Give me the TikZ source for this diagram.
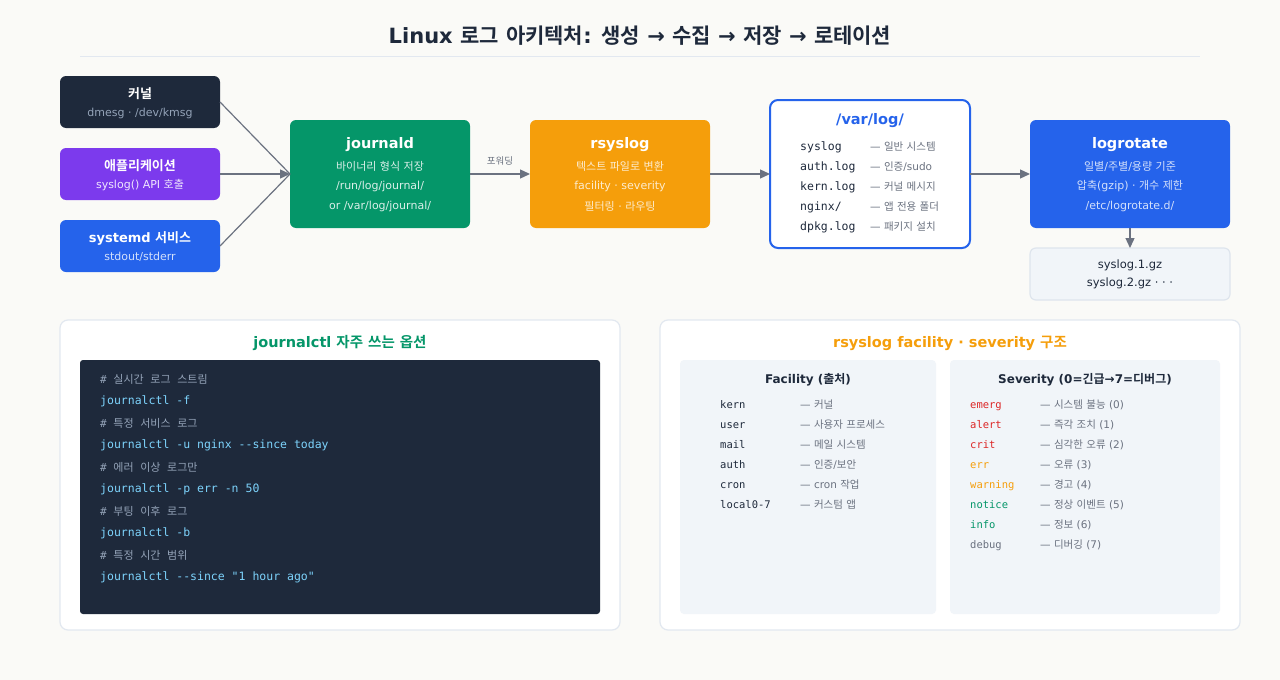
\documentclass[tikz,border=0pt]{standalone}
\usepackage{fontspec}
\setmainfont{DejaVu Sans}
\setmonofont{DejaVu Sans Mono}
\newfontfamily\krfont{Noto Sans CJK KR}[BoldFont={* Bold}]
\XeTeXinterchartokenstate=1
\newXeTeXintercharclass\KRclass
\count255="AC00
\loop \XeTeXcharclass\count255=\KRclass \advance\count255 1 \ifnum\count255<"D7A4 \repeat
\XeTeXinterchartoks 0 \KRclass = {\begingroup\krfont}
\XeTeXinterchartoks 4095 \KRclass = {\begingroup\krfont}
\XeTeXinterchartoks \KRclass 0 = {\endgroup}
\XeTeXinterchartoks \KRclass 4095 = {\endgroup}
\usetikzlibrary{arrows.meta}
\definecolor{bg}{HTML}{FAFAF7}
\definecolor{ink}{HTML}{1E293B}
\definecolor{rule}{HTML}{E2E8F0}
\definecolor{purp}{HTML}{7C3AED}
\definecolor{blu}{HTML}{2563EB}
\definecolor{grn}{HTML}{059669}
\definecolor{org}{HTML}{F59E0B}
\definecolor{gry}{HTML}{6B7280}
\definecolor{lgry}{HTML}{94A3B8}
\definecolor{pale}{HTML}{F1F5F9}
\definecolor{pbord}{HTML}{CBD5E1}
\definecolor{cy}{HTML}{7DD3FC}
\definecolor{red}{HTML}{DC2626}
\tikzset{
 box/.style={rounded corners=6pt, draw=none},
 t/.style={font=\fontsize{13}{15}\selectfont\bfseries, text=white},
 s/.style={font=\fontsize{11}{12}\selectfont},
 arr/.style={draw=gry, line width=1.3pt, -{Triangle[length=10pt,width=9pt]}},
 lft/.style={anchor=base west, inner xsep=0pt},
 mono/.style={lft, font=\ttfamily\fontsize{11.5}{13}\selectfont},
 mono2/.style={lft, font=\ttfamily\fontsize{10.5}{12}\selectfont},
 desc/.style={lft, font=\fontsize{10.5}{12}\selectfont, text=gry},
}
\begin{document}
\begin{tikzpicture}[x=1pt,y=-1pt]
\fill[bg] (0,0) rectangle (1280,680);
\useasboundingbox (0,0) rectangle (1280,680);
\node[font=\fontsize{21}{24}\selectfont\bfseries, text=ink] (title) at (640,36) {Linux 로그 아키텍처: 생성 → 수집 → 저장 → 로테이션};
\draw[rule, line width=1pt] (80,56) -- (1200,56);
% sources
\fill[box, ink] (60,76) rectangle (220,128); \coordinate (k) at (220,102);
\node[t] at (140,94) {커널}; \node[s, text=lgry] at (140,113) {dmesg · /dev/kmsg};
\fill[box, purp] (60,148) rectangle (220,200); \coordinate (a) at (220,174);
\node[t] at (140,166) {애플리케이션}; \node[s, text=white!88!purp] at (140,185) {syslog() API 호출};
\fill[box, blu] (60,220) rectangle (220,272); \coordinate (sd) at (220,246);
\node[t] at (140,238) {systemd 서비스}; \node[s, text=white!80!blu] at (140,257) {stdout/stderr};
% journald
\fill[box, grn] (290,120) rectangle (470,228);
\coordinate (jl) at (290,174); \coordinate (jr) at (470,174);
\node[t, font=\fontsize{14.5}{16}\selectfont\bfseries] at (380,145) {journald};
\node[s, text=white!85!grn] at (380,166) {바이너리 형식 저장};
\node[s, text=white!85!grn] at (380,186) {/run/log/journal/};
\node[s, text=white!85!grn] at (380,206) {or /var/log/journal/};
% rsyslog
\fill[box, org] (530,120) rectangle (710,228);
\coordinate (rl) at (530,174); \coordinate (rr) at (710,174);
\node[t, font=\fontsize{14.5}{16}\selectfont\bfseries] at (620,145) {rsyslog};
\node[s, text=white!80!org] at (620,166) {텍스트 파일로 변환};
\node[s, text=white!80!org] at (620,186) {facility · severity};
\node[s, text=white!80!org] at (620,206) {필터링 · 라우팅};
% varlog
\draw[blu, fill=white, line width=2pt, rounded corners=8pt] (770,100) rectangle (970,248);
\coordinate (vl) at (770,174); \coordinate (vr) at (970,174);
\node[font=\fontsize{14.5}{16}\selectfont\bfseries, text=blu] at (870,121) {/var/log/};
\foreach \n/\d [count=\i from 0] in {{syslog}/{일반 시스템}, {auth.log}/{인증/sudo}, {kern.log}/{커널 메시지}, {nginx/}/{앱 전용 폴더}, {dpkg.log}/{패키지 설치}}{
  \node[mono, text=ink] at (800,150+20*\i) {\n};
  \node[desc] at (870,150+20*\i) {— \d};
}
% logrotate
\fill[box, blu] (1030,120) rectangle (1230,228);
\coordinate (ll) at (1030,174); \coordinate (lb) at (1130,228);
\node[t, font=\fontsize{14.5}{16}\selectfont\bfseries] at (1130,145) {logrotate};
\node[s, text=white!80!blu] at (1130,166) {일별/주별/용량 기준};
\node[s, text=white!80!blu] at (1130,186) {압축(gzip) · 개수 제한};
\node[s, text=white!80!blu] at (1130,206) {/etc/logrotate.d/};
\draw[pale!50!pbord, fill=pale, line width=1.2pt, rounded corners=6pt] (1030,248) rectangle (1230,300);
\coordinate (at) at (1130,248);
\node[font=\fontsize{11.5}{13}\selectfont, text=ink] at (1130,265) {syslog.1.gz};
\node[font=\fontsize{11.5}{13}\selectfont, text=ink] at (1130,283) {syslog.2.gz · · ·};
% arrows
\draw[draw=gry, line width=1.2pt] (k) -- (jl); \draw[draw=gry, line width=1.2pt] (sd) -- (jl);
\draw[arr] (a) -- (jl);
\draw[arr] (jr) -- (rl);
\node[font=\fontsize{9.5}{10}\selectfont, text=gry] at (500,161) {포워딩};
\draw[arr] (rr) -- (vl);
\draw[arr] (vr) -- (ll);
\draw[arr] (lb) -- (at);
% bottom left
\draw[rule, fill=white, line width=1.2pt, rounded corners=8pt] (60,320) rectangle (620,630);
\node[font=\fontsize{14.5}{16}\selectfont\bfseries, text=grn] at (340,343) {journalctl 자주 쓰는 옵션};
\fill[ink, rounded corners=3pt] (80,360) rectangle (600,614);
\foreach \c/\m [count=\i from 0] in {{실시간 로그 스트림}/{journalctl -f}, {특정 서비스 로그}/{journalctl -u nginx --since today}, {에러 이상 로그만}/{journalctl -p err -n 50}, {부팅 이후 로그}/{journalctl -b}, {특정 시간 범위}/{journalctl --since "1 hour ago"}}{
  \node[lft, font=\ttfamily\fontsize{11}{13}\selectfont, text=lgry] at (100,383+44*\i) {\# \c};
  \node[lft, font=\ttfamily\fontsize{11.5}{13}\selectfont, text=cy] at (100,404+44*\i) {\m};
}
% bottom right
\draw[rule, fill=white, line width=1.2pt, rounded corners=8pt] (660,320) rectangle (1240,630);
\node[font=\fontsize{14.5}{16}\selectfont\bfseries, text=org] at (950,343) {rsyslog facility · severity 구조};
\fill[pale, rounded corners=4pt] (680,360) rectangle (936,614);
\fill[pale, rounded corners=4pt] (950,360) rectangle (1220,614);
\node[font=\fontsize{12}{14}\selectfont\bfseries, text=ink] at (808,380) {Facility (출처)};
\node[font=\fontsize{12}{14}\selectfont\bfseries, text=ink] at (1085,380) {Severity (0=긴급→7=디버그)};
\foreach \n/\d [count=\i from 0] in {{kern}/{커널}, {user}/{사용자 프로세스}, {mail}/{메일 시스템}, {auth}/{인증/보안}, {cron}/{cron 작업}, {local0-7}/{커스텀 앱}}{
  \node[mono2, text=ink] at (720,408+20*\i) {\n};
  \node[desc] at (800,408+20*\i) {— \d};
}
\foreach \n/\d/\c [count=\i from 0] in {emerg/시스템 불능 (0)/red, alert/즉각 조치 (1)/red, crit/심각한 오류 (2)/red, err/오류 (3)/org, warning/경고 (4)/org, notice/정상 이벤트 (5)/grn, info/정보 (6)/grn, debug/디버깅 (7)/gry}{
  \node[mono2, text=\c] at (970,408+20*\i) {\n};
  \node[desc] at (1040,408+20*\i) {— \d};
}
\end{tikzpicture}
\end{document}
